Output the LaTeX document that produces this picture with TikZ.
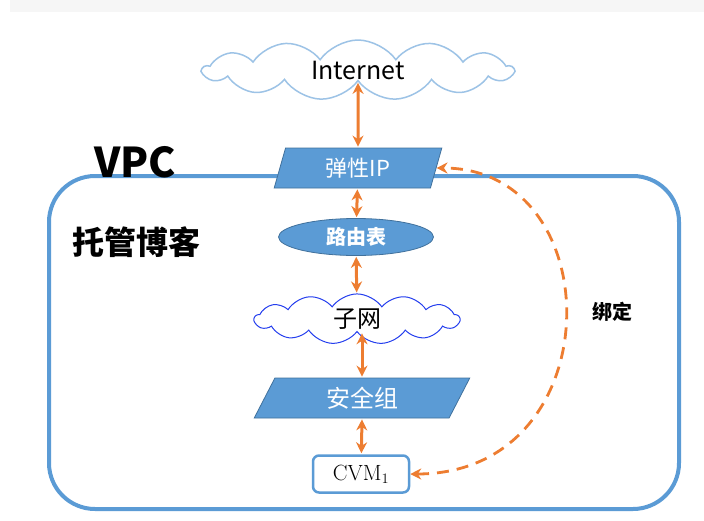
\documentclass[tikz,border=0pt]{standalone}
\usepackage{fontspec}
\newfontfamily\cjk{Noto Sans CJK SC}
\usetikzlibrary{shapes.geometric,shapes.symbols,arrows.meta}
\definecolor{azul}{HTML}{5B9BD5}
\definecolor{azulosc}{HTML}{41719C}
\definecolor{nube}{HTML}{9DC3E6}
\definecolor{naranja}{HTML}{ED7D31}
\tikzset{
  nubebox/.style={cloud, cloud puffs=13, cloud puff arc=110, aspect=6, draw=nube, line width=1.5pt, fill=white, inner sep=0pt},
  paralelo/.style={trapezium, trapezium left angle=#1, trapezium right angle=180-#1, trapezium stretches=true, draw=azulosc, line width=0.8pt, fill=azul, text=white, minimum height=40pt, inner sep=0pt},
  enlace/.style={{Stealth[length=11pt,width=11pt]}-{Stealth[length=11pt,width=11pt]}, naranja, line width=3pt, shorten <=1pt, shorten >=1pt}
}
\begin{document}
\begin{tikzpicture}[x=1pt, y=-1pt]
\useasboundingbox (0,0) rectangle (704,520);
% Definir coordenadas
\coordinate (I) at (358,70);
\coordinate (E) at (358,168);
\coordinate (R) at (356,237);
\coordinate (S) at (357,319);
\coordinate (G) at (362,398);
\coordinate (C) at (361,474);

% Barra superior
\fill[gray!7] (10,0) rectangle (704,12);

% Caja VPC
\draw[azul, line width=4pt, rounded corners=46pt] (49,176) rectangle (679,509);
\node[font=\cjk\bfseries\fontsize{41}{41}\selectfont] (vpc) at (135,162) {VPC};
\node[font=\cjk\bfseries\fontsize{32}{32}\selectfont] (blog) at (136,242) {托管博客};

% Nodos
\node[nubebox, minimum width=310pt, minimum height=60pt, font=\cjk\fontsize{25}{25}\selectfont] (inet) at (I) {Internet};
\node[paralelo=76, minimum width=168pt, font=\cjk\fontsize{22}{22}\selectfont] (eip) at (E) {弹性IP};
\node[ellipse, draw=azulosc, line width=0.8pt, fill=azul, text=white, minimum width=155pt, minimum height=37pt, inner sep=0pt, font=\cjk\bfseries\fontsize{20}{20}\selectfont] (ruta) at (R) {路由表};
\node[nubebox, draw=blue!60!azul, line width=1pt, minimum width=205pt, minimum height=44pt, font=\cjk\fontsize{24}{24}\selectfont] (subred) at (S) {子网};
\node[paralelo=69, minimum width=216pt, font=\cjk\fontsize{24}{24}\selectfont] (grupo) at (G) {安全组};
\node[draw=azul, line width=2.5pt, rounded corners=6pt, fill=white, minimum width=96pt, minimum height=37pt, inner sep=0pt, font=\fontsize{22}{22}\selectfont] (cvm) at (C) {CVM$_1$};

% Flechas
\draw[enlace] (inet) -- (eip);
\draw[enlace] (eip) -- (ruta);
\draw[enlace] (ruta) -- (subred);
\draw[enlace] (grupo.north |- subred.south) -- (grupo.north);
\draw[enlace] (grupo.center |- grupo.south) -- (cvm);

% Enlace punteado
\draw[naranja, line width=2.8pt, dash pattern=on 12pt off 8pt, {Stealth[length=11pt,width=11pt]}-{Stealth[length=11pt,width=11pt]}]
  (cvm.east) .. controls (612,474) and (612,168) .. (eip.east);
\node[font=\cjk\bfseries\fontsize{20}{20}\selectfont] (bind) at (612,312) {绑定};
\end{tikzpicture}
\end{document}
